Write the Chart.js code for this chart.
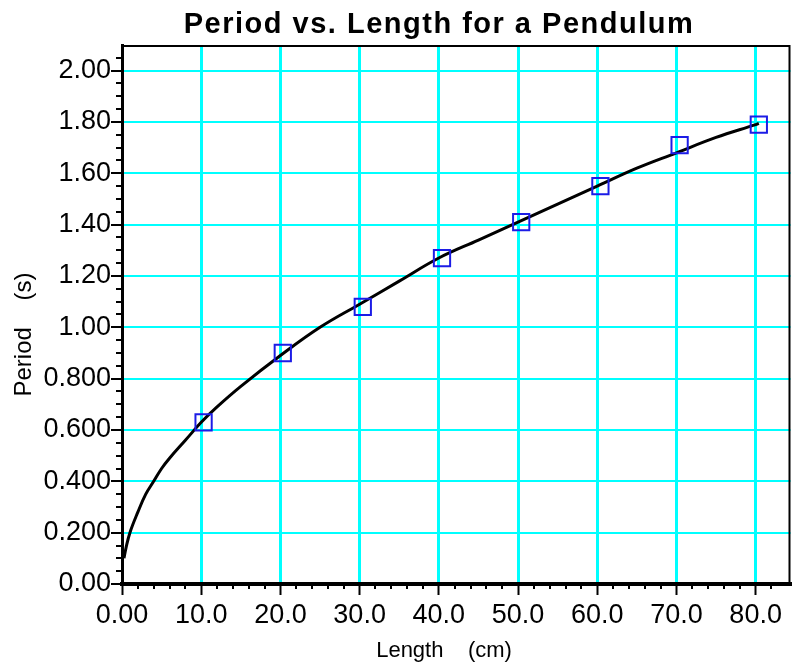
<!DOCTYPE html>
<html>
<head>
<meta charset="utf-8">
<script src="https://cdn.jsdelivr.net/npm/chart.js@4"></script>
<style>
  body { margin: 0; background: #fff; }
  #wrap { width: 804px; height: 664px; }
</style>
</head>
<body>
<div id="wrap"><canvas id="myChart"></canvas></div>
<script>
// measured points (cm, s)
const lengths = [10.3, 20.3, 30.4, 40.4, 50.4, 60.4, 70.4, 80.4];
const periods = [0.63, 0.90, 1.08, 1.27, 1.41, 1.55, 1.71, 1.79];

// fit curve
const curveX = [0.25, 0.5, 1, 2, 3, 4, 5, 6, 8, 10, 12, 15, 20, 25, 30, 35, 40, 45, 50, 55, 60, 65, 70, 75, 80, 80.4];
const curveY = [0.10, 0.14, 0.20, 0.28, 0.35, 0.40, 0.45, 0.49, 0.56, 0.63, 0.69, 0.77, 0.89, 1.00, 1.09, 1.18, 1.27, 1.34, 1.41, 1.48, 1.55, 1.62, 1.68, 1.74, 1.79, 1.795];

const xTicks = [0, 10, 20, 30, 40, 50, 60, 70, 80];
const yTicks = [0, 0.2, 0.4, 0.6, 0.8, 1.0, 1.2, 1.4, 1.6, 1.8, 2.0];

const TITLE = 'Period vs. Length for a Pendulum';
const FONT = "'Liberation Sans', Arial, sans-serif";

// frame, minor ticks and the title
const frameAndMinor = {
    id: 'frameAndMinor',
    afterDraw(chart) {
        const { ctx, chartArea: a, scales: { x, y } } = chart;
        ctx.save();
        ctx.strokeStyle = '#000';
        ctx.lineWidth = 2;
        ctx.beginPath();
        ctx.moveTo(a.left, a.top + 1);
        ctx.lineTo(a.right - 1, a.top + 1);
        ctx.lineTo(a.right - 1, a.bottom);
        ctx.stroke();
        ctx.beginPath();
        for (let v = 0.05; v < 2.1; v += 0.05) {
            if (Math.abs(v / 0.2 - Math.round(v / 0.2)) < 1e-6) continue;
            const py = Math.round(y.getPixelForValue(v));
            ctx.moveTo(a.left - 6, py);
            ctx.lineTo(a.left, py);
        }
        for (let v = 2; v < 84; v += 2) {
            if (v % 10 === 0) continue;
            const px = Math.round(x.getPixelForValue(v));
            ctx.moveTo(px, a.bottom);
            ctx.lineTo(px, a.bottom + 5);
        }
        ctx.stroke();

        ctx.fillStyle = '#000';
        ctx.font = "bold 29px " + FONT;
        ctx.textAlign = 'center';
        ctx.textBaseline = 'alphabetic';
        ctx.letterSpacing = '1.5px';
        ctx.fillText(TITLE, 439, 33);
        ctx.restore();
    }
};

new Chart(document.getElementById('myChart'), {
    type: 'scatter',
    data: {
        datasets: [
            {
                type: 'line',
                data: curveX.map((v, i) => ({ x: v, y: curveY[i] })),
                borderColor: '#000',
                borderWidth: 3,
                pointRadius: 0,
                tension: 0.4,
                order: 2,
            },
            {
                data: lengths.map((v, i) => ({ x: v, y: periods[i] })),
                pointStyle: 'rect',
                pointRadius: 11.5,
                borderColor: '#1c1ce6',
                borderWidth: 2,
                backgroundColor: 'rgba(0,0,0,0)',
                order: 1,
            }
        ]
    },
    options: {
        responsive: true,
        maintainAspectRatio: false,
        animation: false,
        layout: { padding: { left: 0, right: 9, top: 45, bottom: 0 } },
        plugins: {
            legend: { display: false },
            tooltip: { enabled: false },
        },
        scales: {
            x: {
                type: 'linear',
                min: 0,
                max: 84.4,
                afterBuildTicks: (s) => { s.ticks = xTicks.map(v => ({ value: v })); },
                afterFit: (s) => { s.height = 80; },
                ticks: {
                    color: '#000',
                    font: { family: FONT, size: 27 },
                    padding: 4,
                    maxRotation: 0,
                    callback: (v) => v === 0 ? '0.00' : Number(v).toFixed(1),
                },
                grid: { color: '#00ffff', lineWidth: 3, tickColor: '#000', tickLength: 11, tickWidth: 2 },
                border: { color: '#000', width: 4 },
                title: {
                    display: true,
                    text: 'Length    (cm)    ',
                    color: '#000',
                    font: { family: FONT, size: 22 },
                    padding: { top: 0, bottom: 0 },
                },
            },
            y: {
                type: 'linear',
                min: 0,
                max: 2.1,
                afterBuildTicks: (s) => { s.ticks = yTicks.map(v => ({ value: v })); },
                afterFit: (s) => { s.width = 122; },
                ticks: {
                    color: '#000',
                    font: { family: FONT, size: 27 },
                    padding: 0,
                    callback: (v) => v === 0 ? '0.00' : (v < 1 ? Number(v).toFixed(3) : Number(v).toFixed(2)),
                },
                grid: { color: '#00ffff', lineWidth: 2, tickColor: '#000', tickLength: 11, tickWidth: 2 },
                border: { color: '#000', width: 3 },
                title: {
                    display: true,
                    text: 'Period    (s)      ',
                    color: '#000',
                    font: { family: FONT, size: 24 },
                    padding: { top: 10, bottom: 0 },
                },
            },
        },
    },
    plugins: [frameAndMinor],
});
</script>
</body>
</html>
